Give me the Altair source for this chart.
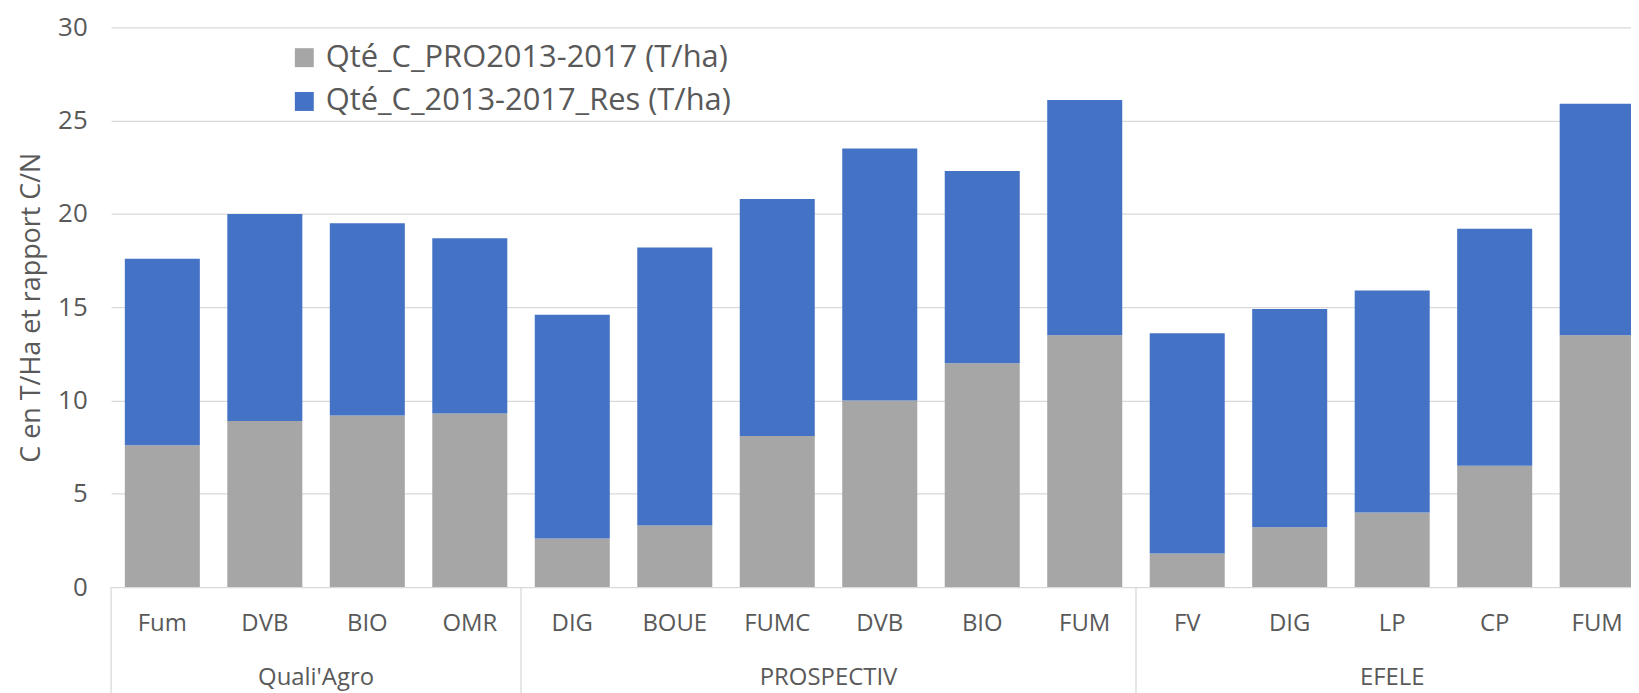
import altair as alt
import pandas as pd

groups = ["Quali'Agro"] * 4 + ["PROSPECTIV"] * 6 + ["EFELE"] * 5
categories = ["Fum", "DVB", "BIO", "OMR",
              "DIG", "BOUE", "FUMC", "DVB", "BIO", "FUM",
              "FV", "DIG", "LP", "CP", "FUM"]
pro = [7.6, 8.9, 9.2, 9.3, 2.6, 3.3, 8.1, 10.0, 12.0, 13.5, 1.8, 3.2, 4.0, 6.5, 13.5]
res = [10.0, 11.1, 10.3, 9.4, 12.0, 14.9, 12.7, 13.5, 10.3, 12.6, 11.8, 11.7, 11.9, 12.7, 12.4]
series_names = ["Qté_C_PRO2013-2017 (T/ha)", "Qté_C_2013-2017_Res (T/ha)"]
series_colors = ["#A6A6A6", "#4472C4"]
y_ticks = [0, 5, 10, 15, 20, 25, 30]

df = pd.DataFrame({
    "idx": list(range(len(categories))),
    "cat": categories,
    "group": groups,
    "pro": pro,
    "res": res,
})

FONT = "Open Sans"
TXT = "#595959"
GRID = "#D9D9D9"
W, H = 1526, 562

xscale = alt.Scale(domain=[-0.5, 14.33], nice=False, zero=False)
yscale = alt.Scale(domain=[0, 30], nice=False)
cscale = alt.Scale(domain=series_names, range=series_colors)

bars = alt.Chart(df).transform_fold(
    ["pro", "res"], as_=["key", "value"]
).transform_calculate(
    y0="datum.key == 'pro' ? 0 : datum.pro",
    y1="datum.key == 'pro' ? datum.pro : datum.pro + datum.res",
    series=f"datum.key == 'pro' ? '{series_names[0]}' : '{series_names[1]}'",
    x0="datum.idx - 0.366",
    x1="datum.idx + 0.366",
).mark_bar(clip=True).encode(
    x=alt.X("x0:Q", scale=xscale, axis=None),
    x2="x1:Q",
    y=alt.Y("y1:Q", scale=yscale, axis=alt.Axis(
        values=y_ticks, grid=True, gridColor=GRID, gridWidth=1.3,
        domain=False, ticks=False, labelFontSize=26, labelFont=FONT,
        labelColor=TXT, labelPadding=24,
        title="C en T/Ha et rapport C/N", titleFontSize=27, titleFont=FONT,
        titleFontWeight="normal", titleColor=TXT, titleX=-80, titleY=H / 2,
        titleAngle=270, titleAlign="center", titleBaseline="middle")),
    y2="y0:Q",
    color=alt.Color("series:N", scale=cscale, sort=series_names, legend=alt.Legend(
        orient="none", legendX=178.5, legendY=15, title=None,
        labelFontSize=31, labelFont=FONT, labelColor=TXT,
        symbolType="square", symbolSize=361, symbolStrokeWidth=0,
        rowPadding=12, labelOffset=6, padding=0, labelLimit=900,
        direction="vertical")),
)

cat_labels = alt.Chart(df).mark_text(
    font=FONT, fontSize=24, color=TXT, baseline="middle", align="center"
).encode(
    x=alt.X("idx:Q", scale=xscale, axis=None),
    y=alt.value(H + 37),
    text="cat:N",
)

group_labels = alt.Chart(df).transform_aggregate(
    mid="mean(idx)", groupby=["group"]
).mark_text(
    font=FONT, fontSize=24, color=TXT, baseline="middle", align="center"
).encode(
    x=alt.X("mid:Q", scale=xscale, axis=None),
    y=alt.value(H + 91),
    text="group:N",
)

separators = alt.Chart(df).transform_aggregate(
    start="min(idx)", groupby=["group"]
).transform_calculate(
    sep="datum.start - 0.5"
).mark_rule(color=GRID, strokeWidth=1.3).encode(
    x=alt.X("sep:Q", scale=xscale, axis=None),
    y=alt.value(H),
    y2=alt.value(H + 110),
)

chart = alt.layer(bars, separators, cat_labels, group_labels).properties(
    width=W, height=H,
    autosize=alt.AutoSizeParams(type="none"),
    padding={"left": 103.5, "top": 18, "right": 0, "bottom": 105},
).configure_view(stroke=None)

chart.save("out.html", embed_options={"renderer": "svg", "actions": False})
